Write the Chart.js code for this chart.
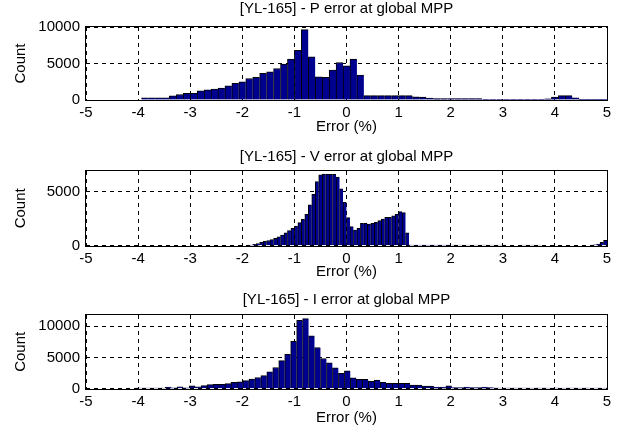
<!DOCTYPE html>
<html>
<head>
<meta charset="utf-8">
<script src="https://cdn.jsdelivr.net/npm/chart.js@4.4.1/dist/chart.umd.min.js"></script>
<style>
  html, body { margin: 0; padding: 0; background: #fff; }
  #wrap { position: relative; width: 621px; height: 432px; overflow: hidden; }
  #wrap canvas { position: absolute; left: 0; }
</style>
</head>
<body>
<div id="wrap">
  <canvas id="histP" width="621" height="140" style="top:0px"></canvas>
  <canvas id="histV" width="621" height="145" style="top:140px"></canvas>
  <canvas id="histI" width="621" height="147" style="top:285px"></canvas>
</div>
<script>
// Shared axis labels
const xTicks = [-5, -4, -3, -2, -1, 0, 1, 2, 3, 4, 5];
const xLabel = 'Error (%)';
const yLabel = 'Count';

// Power error histogram (bin edges start at pBinStart, equal widths)
const pTitle = '[YL-165] - P error at global MPP';
const pBinStart = -3.9333;
const pBinWidth = 0.13333;
const pCounts = [
  300, 300, 300, 300, 580, 750, 900, 900, 1250, 1380,
  1500, 1650, 1950, 2270, 2500, 2950, 3090, 3640, 3860, 4320,
  4910, 5590, 6820, 9640, 5910, 3180, 3090, 4090, 5140, 4680,
  5590, 3410, 590, 590, 590, 590, 590, 590, 590, 440,
  400, 270, 180, 180, 180, 180, 180, 180, 180, 90,
  90, 90, 90, 90, 90, 90, 90, 90, 150, 400,
  600, 600, 300, 20, 20, 20, 20
];
const pYTicks = [0, 5000, 10000];

// Voltage error histogram
const vTitle = '[YL-165] - V error at global MPP';
const vBinStart = -1.8667;
const vBinWidth = 0.06667;
const vCounts = [
  60, 120, 200, 300, 400, 480, 560, 680, 820,
  990, 1200, 1390, 1600, 1820, 2130, 2440, 2900, 3770, 4750,
  5930, 6540, 6620, 6620, 6600, 6600, 6330, 5250, 4010, 2590,
  1760, 1450, 1600, 2070, 2070, 2000, 2070, 2160, 2310, 2470,
  2620, 2620, 2750, 2900, 3150, 3060, 1200,
  60, 60, 60, 60, 60, 60, 60, 60, 60, 60, 60, 60,
  40, 40, 40, 40, 40, 40, 40, 40, 40, 40, 40, 40, 40, 40, 40, 40,
  0, 0, 0, 0,
  40, 40, 40, 40, 40, 40,
  0, 0, 0, 0, 0, 0, 0, 0, 0, 0, 0, 0, 0, 0,
  40, 80, 150, 300, 500
];
const vYTicks = [0, 5000];

// Current error histogram
const iTitle = '[YL-165] - I error at global MPP';
const iBinStart = -4.05;
const iBinWidth = 0.11456;
const iCounts = [
  80, 80, 80, 80, 100, 270, 120, 300, 150, 450,
  300, 500, 650, 700, 700, 820, 1000, 1100, 1300, 1550,
  1800, 2100, 2700, 3400, 4500, 5500, 7600, 10960, 11220, 8460,
  6600, 4840, 4150, 3350, 2450, 2870, 1760, 1490, 1490, 1170,
  1380, 1010, 850, 850, 850, 850, 590, 590, 425, 425,
  270, 250, 440, 160, 160, 270, 160, 160, 270, 160,
  100, 100, 100, 100, 100, 100, 60, 100, 100, 60,
  100, 60, 100, 100, 60, 100, 60, 100, 60
];
const iYTicks = [0, 5000, 10000];

const FONT = "'Liberation Sans', Arial, Helvetica, sans-serif";
const FONT_SIZE = 15;
const BAR_FILL = '#00008f';

// Black frame around each plot area
const frame = {
  id: 'frame',
  afterDatasetsDraw(chart) {
    const { ctx, chartArea: a } = chart;
    ctx.save();
    ctx.strokeStyle = '#000';
    ctx.lineWidth = 1;
    const l = Math.round(a.left) - 0.5, t = Math.round(a.top) - 0.5;
    const r = Math.round(a.right) + 0.5, b = Math.round(a.bottom) + 0.5;
    ctx.strokeRect(l, t, r - l, b - t);
    ctx.restore();
  }
};

function histogram(id, title, binStart, binWidth, counts, yTicks, yMax, lay) {
  const points = counts.map((c, i) => ({ x: binStart + (i + 0.5) * binWidth, y: c }));
  const font = { family: FONT, size: FONT_SIZE };
  return new Chart(document.getElementById(id), {
    type: 'bar',
    data: {
      datasets: [{
        xAxisID: 'x',
        yAxisID: 'y',
        data: points,
        backgroundColor: BAR_FILL,
        borderColor: '#000',
        borderWidth: { left: 1, top: 1, right: 0, bottom: 0 },
        borderSkipped: false,
        barPercentage: 1,
        categoryPercentage: 1
      }]
    },
    options: {
      responsive: false,
      animation: false,
      devicePixelRatio: 1,
      layout: { padding: { left: 0, right: 14, top: 0, bottom: 0 } },
      plugins: {
        legend: { display: false },
        tooltip: { enabled: false },
        title: { display: false }
      },
      scales: {
        x: {
          type: 'linear',
          position: 'bottom',
          min: -5,
          max: 5,
          offset: false,
          afterBuildTicks: s => { s.ticks = xTicks.map(v => ({ value: v })); },
          afterFit: s => { s.height = lay.xHeight; },
          grid: { color: '#000', lineWidth: 1, drawTicks: false, offset: false },
          border: { display: false, dash: [4, 4] },
          ticks: {
            color: '#000',
            font: font,
            padding: 4,
            maxRotation: 0,
            autoSkip: false,
            callback: v => String(v)
          },
          title: {
            display: true,
            text: xLabel,
            color: '#000',
            font: font,
            padding: { top: 0, bottom: lay.xTitlePad }
          }
        },
        y: {
          min: 0,
          max: yMax,
          afterBuildTicks: s => { s.ticks = yTicks.map(v => ({ value: v })); },
          afterFit: s => { s.width = 86; },
          grid: { color: '#000', lineWidth: 1, drawTicks: false },
          border: { display: false, dash: [4, 4] },
          ticks: {
            color: '#000',
            font: font,
            padding: 6,
            callback: v => String(v)
          },
          title: {
            display: true,
            text: yLabel,
            color: '#000',
            font: font,
            padding: { top: 12, bottom: 0 }
          }
        },
        // top axis only carries the plot title, centred over the plot area
        top: {
          type: 'linear',
          position: 'top',
          min: -5,
          max: 5,
          offset: false,
          afterFit: s => { s.height = lay.areaTop; },
          grid: { display: false, offset: false },
          border: { display: false },
          ticks: { display: false },
          title: {
            display: true,
            text: title,
            color: '#000',
            font: font,
            padding: { top: lay.titleTop, bottom: 0 }
          }
        }
      }
    },
    plugins: [frame]
  });
}

histogram('histP', pTitle, pBinStart, pBinWidth, pCounts, pYTicks, 10000,
  { areaTop: 27, titleTop: 0, xHeight: 40, xTitlePad: 4 });
histogram('histV', vTitle, vBinStart, vBinWidth, vCounts, vYTicks, 6900,
  { areaTop: 31, titleTop: 8, xHeight: 39.3, xTitlePad: 4 });
histogram('histI', iTitle, iBinStart, iBinWidth, iCounts, iYTicks, 11800,
  { areaTop: 30, titleTop: 6, xHeight: 43.3, xTitlePad: 5 });
</script>
</body>
</html>
